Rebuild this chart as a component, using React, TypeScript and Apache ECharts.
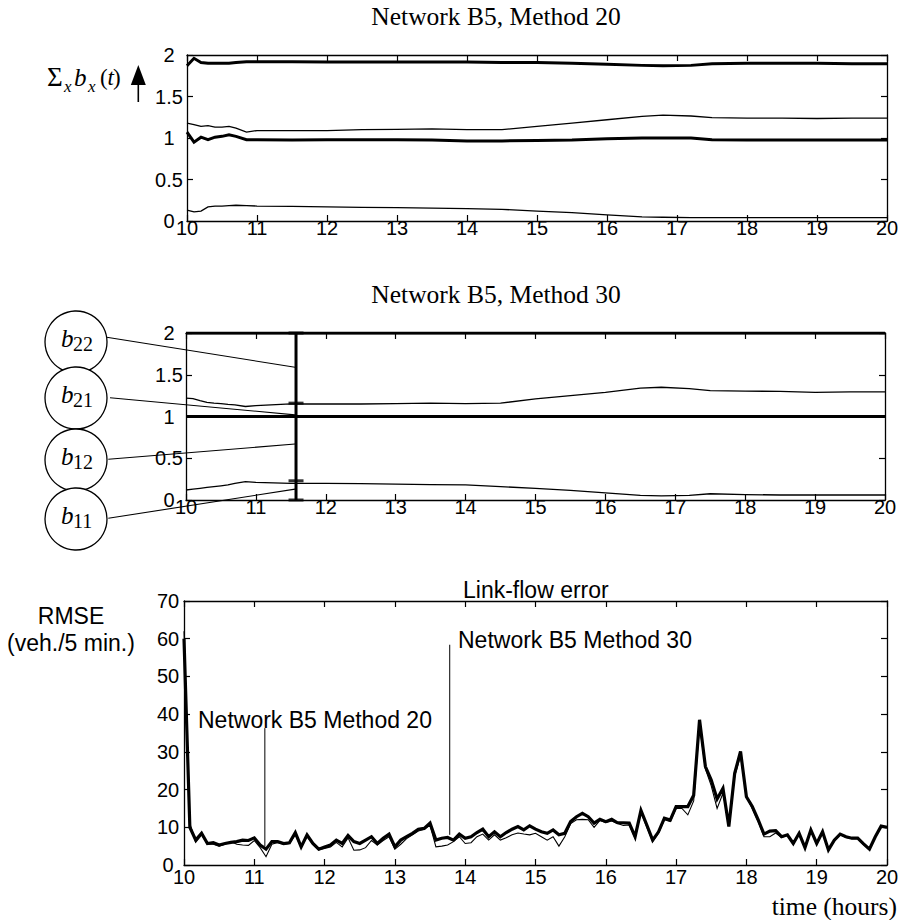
import React, { useEffect, useRef } from 'react';
import * as echarts from 'echarts';

// ---------- Data ----------
const PANEL_HOURS = [10, 10.1, 10.2, 10.3, 10.4, 10.5, 10.6, 10.7, 10.85, 11, 11.5, 12, 12.5, 13, 13.5, 14, 14.5, 15, 15.5, 16, 16.5, 16.8, 17.2, 17.5, 18, 18.5, 19, 19.5, 20];

// Network B5, Method 20
const M20_UPPER_THICK = [1.87, 1.96, 1.91, 1.9, 1.9, 1.9, 1.9, 1.91, 1.92, 1.92, 1.92, 1.915, 1.915, 1.915, 1.915, 1.915, 1.91, 1.91, 1.9, 1.89, 1.875, 1.87, 1.875, 1.895, 1.9, 1.9, 1.9, 1.895, 1.895];
const M20_UPPER_THIN = [1.18, 1.16, 1.14, 1.15, 1.13, 1.13, 1.14, 1.12, 1.07, 1.09, 1.09, 1.09, 1.1, 1.105, 1.11, 1.1, 1.1, 1.14, 1.18, 1.22, 1.26, 1.275, 1.265, 1.245, 1.24, 1.24, 1.235, 1.24, 1.24];
const M20_LOWER_THICK = [1.07, 0.95, 1.01, 0.98, 1.01, 1.02, 1.04, 1.02, 0.98, 0.98, 0.975, 0.98, 0.98, 0.98, 0.975, 0.965, 0.965, 0.97, 0.975, 0.99, 1.0, 1.0, 1.0, 0.98, 0.975, 0.975, 0.975, 0.975, 0.975];
const M20_LOWER_THIN = [0.13, 0.11, 0.12, 0.17, 0.18, 0.18, 0.185, 0.19, 0.185, 0.18, 0.175, 0.17, 0.165, 0.16, 0.155, 0.15, 0.14, 0.12, 0.1, 0.075, 0.05, 0.045, 0.04, 0.04, 0.04, 0.04, 0.04, 0.04, 0.04];

// Network B5, Method 30
const M30_UPPER_THICK = [2, 2, 2, 2, 2, 2, 2, 2, 2, 2, 2, 2, 2, 2, 2, 2, 2, 2, 2, 2, 2, 2, 2, 2, 2, 2, 2, 2, 2];
const M30_UPPER_THIN = [1.22, 1.215, 1.19, 1.17, 1.16, 1.155, 1.145, 1.14, 1.12, 1.13, 1.15, 1.15, 1.15, 1.155, 1.16, 1.155, 1.16, 1.21, 1.25, 1.29, 1.34, 1.35, 1.335, 1.31, 1.305, 1.3, 1.29, 1.295, 1.295];
const M30_LOWER_THICK = [1, 1, 1, 1, 1, 1, 1, 1, 1, 1, 1, 1, 1, 1, 1, 1, 1, 1, 1, 1, 1, 1, 1, 1, 1, 1, 1, 1, 1];
const M30_LOWER_THIN = [0.12, 0.13, 0.14, 0.15, 0.16, 0.17, 0.18, 0.2, 0.22, 0.21, 0.2, 0.2, 0.195, 0.19, 0.185, 0.18, 0.16, 0.14, 0.115, 0.085, 0.055, 0.05, 0.055, 0.075, 0.065, 0.06, 0.06, 0.06, 0.06];

// error bar in the Method 30 panel
const ERRBAR_HOUR = 11.574;
const ERRBAR_CAPS = [2, 1.16, 0.23, 0];
const CIRCLE_LABELS = ['22', '21', '12', '11'];
const LEADER_TARGETS = [1.59, 1.02, 0.67, 0.13];

// Link-flow error (5-minute samples from 10:00 to 20:00)
const RMSE_START_HOUR = 10;
const RMSE_STEP_MINUTES = 5;
const RMSE_THICK = [
  60, 10, 6.6, 8.4, 5.7, 5.9, 5.3, 5.7, 6.0, 6.2, 6.6, 6.5, 7.2, 5.3, 4.2, 6.2, 6.2, 5.7, 5.9, 8.6,
  4.8, 8.0, 5.7, 4.2, 4.8, 5.3, 6.6, 5.7, 7.8, 6.2, 5.7, 6.6, 7.5, 5.7, 7.1, 8.2, 4.8, 6.6, 7.5, 8.4,
  9.5, 9.7, 11.1, 6.6, 7.1, 7.3, 6.6, 8.2, 7.1, 7.5, 8.6, 9.5, 7.5, 8.8, 7.5, 8.6, 9.5, 10.2, 9.3, 10.4,
  9.5, 8.8, 8.4, 9.3, 8.0, 8.4, 11.5, 12.8, 13.7, 12.8, 11.1, 12.1, 11.5, 12.1, 11.2, 11.2, 11.1, 7.5, 14.5, 10.6,
  6.6, 8.8, 12.4, 11.9, 15.5, 15.5, 15.5, 18.5, 38.5, 26.1, 22.5, 17.5, 20.3, 10.2, 24.3, 30.1, 18.1, 15.5, 12.0, 8.2,
  9.0, 9.1, 7.5, 8.0, 5.7, 8.4, 4.6, 9.3, 5.7, 8.8, 4.0, 6.6, 8.2, 7.5, 7.1, 7.1, 5.6, 4.2, 7.5, 10.3,
  10.0,
];
const RMSE_THIN = [
  62, 11, 6.0, 8.0, 5.5, 5.5, 5.0, 5.5, 6.2, 5.5, 5.3, 5.2, 6.5, 4.6, 2.2, 5.5, 6.0, 5.5, 5.7, 8.0,
  4.6, 7.5, 5.5, 4.0, 4.4, 4.8, 6.0, 4.8, 7.2, 3.9, 4.0, 4.6, 6.5, 5.3, 6.5, 7.5, 4.2, 5.5, 7.0, 8.0,
  9.0, 9.5, 10.5, 4.8, 5.0, 5.3, 6.2, 7.5, 5.7, 5.9, 7.5, 8.2, 6.6, 8.0, 6.6, 7.2, 8.0, 8.5, 8.2, 8.0,
  8.4, 7.5, 6.6, 7.5, 5.0, 7.5, 11.0, 12.0, 12.1, 12.0, 10.0, 11.8, 11.2, 11.7, 11.0, 10.5, 10.6, 7.1, 14.0, 10.0,
  6.2, 8.4, 12.0, 11.5, 15.0, 15.0, 13.3, 17.0, 37.0, 25.5, 21.0, 15.0, 19.0, 11.0, 23.5, 29.0, 18.0, 15.0, 11.5, 7.5,
  7.5, 8.5, 7.3, 7.8, 5.5, 8.2, 4.4, 9.0, 5.5, 8.6, 3.9, 6.4, 8.0, 7.3, 7.0, 7.0, 5.4, 4.0, 7.3, 10.1,
  9.8,
];
const LABEL20_LEADER = { hour: 11.15, from: 36.3, to: 5.0 };
const LABEL30_LEADER = { hour: 13.78, from: 58.4, to: 8.0 };

const X_TICK = { min: 10, max: 20, interval: 1 };
const B_TICK = { min: 0, max: 2, interval: 0.5 };
const RMSE_TICK = { min: 0, max: 70, interval: 10 };

// ---------- helpers ----------
const SANS = 'Liberation Sans';
const SERIF = 'Liberation Serif';
const INK = '#000';

const zip = (xs: number[], ys: number[]) => xs.map((x, i) => [x, ys[i]]);
const rmseHours = RMSE_THICK.map((_, i) => RMSE_START_HOUR + (i * RMSE_STEP_MINUTES) / 60);

const axisLine = { show: true, onZero: false, lineStyle: { color: INK, width: 1.3 } };
const axisTick = { show: true, inside: true, length: 6, lineStyle: { color: INK, width: 1.2 } };

function xAxesFor(gi: number, margin: number) {
  return [
    {
      type: 'value', gridIndex: gi, position: 'bottom', ...X_TICK,
      axisLine, axisTick, splitLine: { show: false },
      axisLabel: { margin, color: INK, fontSize: 20, fontFamily: SANS },
    },
    {
      type: 'value', gridIndex: gi, position: 'top', ...X_TICK,
      axisLine, axisTick, splitLine: { show: false }, axisLabel: { show: false },
    },
  ];
}
function yAxesFor(gi: number, tick: any, margin: number) {
  return [
    {
      type: 'value', gridIndex: gi, position: 'left', ...tick,
      axisLine, axisTick, splitLine: { show: false },
      axisLabel: { margin, align: 'center', color: INK, fontSize: 20, fontFamily: SANS, padding: [6, 0, 0, 0] },
    },
    {
      type: 'value', gridIndex: gi, position: 'right', ...tick,
      axisLine, axisTick, splitLine: { show: false }, axisLabel: { show: false },
    },
  ];
}
function lineSeries(gi: number, data: number[][], width: number, z = 3) {
  return {
    type: 'line', xAxisIndex: gi * 2, yAxisIndex: gi * 2, data, symbol: 'none', z,
    lineStyle: { color: INK, width, join: 'miter' }, silent: true,
  };
}
function txt(x: number, y: number, text: string, size: number, family: string, align = 'left', italic = false) {
  return {
    type: 'text', x, y, z: 10,
    style: {
      text, fill: INK, fontSize: size, fontFamily: family, fontStyle: italic ? 'italic' : 'normal',
      align, verticalAlign: 'middle', textAlign: align, textVerticalAlign: 'middle',
    },
  };
}

const CIRCLE_POS = [
  { cx: 76, cy: 342, sx: 106.7, sy: 337.3 },
  { cx: 76, cy: 398, sx: 110, sy: 397.7 },
  { cx: 76, cy: 460, sx: 108.3, sy: 459.3 },
  { cx: 76, cy: 519, sx: 108.3, sy: 518.3 },
];

const option: any = {
  animation: false,
  backgroundColor: '#fff',
  textStyle: { fontFamily: SANS },
  grid: [
    { left: 187, top: 55, width: 700, height: 166 },
    { left: 186, top: 333, width: 699, height: 167 },
    { left: 184, top: 601, width: 703, height: 264 },
  ],
  xAxis: [...xAxesFor(0, -3), ...xAxesFor(1, -3), ...xAxesFor(2, 2)],
  yAxis: [...yAxesFor(0, B_TICK, 18), ...yAxesFor(1, B_TICK, 17), ...yAxesFor(2, RMSE_TICK, 16)],
  series: [
    lineSeries(0, zip(PANEL_HOURS, M20_UPPER_THICK), 3),
    lineSeries(0, zip(PANEL_HOURS, M20_UPPER_THIN), 1.3),
    lineSeries(0, zip(PANEL_HOURS, M20_LOWER_THICK), 3),
    lineSeries(0, zip(PANEL_HOURS, M20_LOWER_THIN), 1.3),
    lineSeries(1, zip(PANEL_HOURS, M30_UPPER_THICK), 3),
    lineSeries(1, zip(PANEL_HOURS, M30_UPPER_THIN), 1.3),
    lineSeries(1, zip(PANEL_HOURS, M30_LOWER_THICK), 3),
    lineSeries(1, zip(PANEL_HOURS, M30_LOWER_THIN), 1.3),
    lineSeries(1, [[ERRBAR_HOUR, 0], [ERRBAR_HOUR, 2]], 3, 4),
    {
      type: 'scatter', xAxisIndex: 2, yAxisIndex: 2, symbol: 'rect', symbolSize: [15, 3], z: 4,
      itemStyle: { color: INK }, data: ERRBAR_CAPS.map((v) => [ERRBAR_HOUR, v]), silent: true,
    },
    lineSeries(2, zip(rmseHours, RMSE_THICK), 3.2),
    lineSeries(2, zip(rmseHours, RMSE_THIN), 1.1, 4),
    lineSeries(2, [[LABEL20_LEADER.hour, LABEL20_LEADER.from], [LABEL20_LEADER.hour, LABEL20_LEADER.to]], 1),
    lineSeries(2, [[LABEL30_LEADER.hour, LABEL30_LEADER.from], [LABEL30_LEADER.hour, LABEL30_LEADER.to]], 1),
  ],
};

const staticGraphics: any[] = [
  txt(496, 16, 'Network B5, Method 20', 25.5, SERIF, 'center'),
  txt(496, 294, 'Network B5, Method 30', 25.5, SERIF, 'center'),
  // Σ_x b_x(t)
  txt(47, 77, 'Σ', 27, SERIF),
  txt(64, 86, 'x', 17, SERIF, 'left', true),
  txt(74, 77, 'b', 25, SERIF, 'left', true),
  txt(88, 86, 'x', 17, SERIF, 'left', true),
  txt(100, 77, '(', 23, SERIF),
  txt(107.5, 77, 't', 23, SERIF, 'left', true),
  txt(113, 77, ')', 23, SERIF),
  { type: 'polygon', z: 10, shape: { points: [[138.3, 65], [130.8, 85], [145.8, 85]] }, style: { fill: INK } },
  { type: 'line', z: 10, shape: { x1: 138.3, y1: 84, x2: 138.3, y2: 102 }, style: { stroke: INK, lineWidth: 1.6 } },
  // RMSE labels
  txt(71, 616, 'RMSE', 23, SANS, 'center'),
  txt(71, 643, '(veh./5 min.)', 23, SANS, 'center'),
  txt(463, 590, 'Link-flow error', 23, SANS),
  txt(198, 720, 'Network B5 Method 20', 23, SANS),
  txt(458, 640, 'Network B5 Method 30', 23, SANS),
  txt(897, 906, 'time (hours)', 25.5, SERIF, 'right'),
];
CIRCLE_POS.forEach((c, i) => {
  staticGraphics.push({
    type: 'circle', z: 10, shape: { cx: c.cx, cy: c.cy, r: 31 },
    style: { fill: '#fff', stroke: INK, lineWidth: 1.3 },
  });
  staticGraphics.push(txt(c.cx - 15, c.cy - 4, 'b', 25, SERIF, 'left', true));
  staticGraphics.push(txt(c.cx - 3, c.cy + 2, CIRCLE_LABELS[i], 20, SERIF));
});

export default function App() {
  const ref = useRef<HTMLDivElement>(null);
  useEffect(() => {
    document.body.style.margin = '0';
    const chart = echarts.init(ref.current!, null, { renderer: 'svg' });
    chart.setOption(option);
    const leaders = CIRCLE_POS.map((c, i) => {
      const p = chart.convertToPixel({ xAxisIndex: 2, yAxisIndex: 2 }, [ERRBAR_HOUR, LEADER_TARGETS[i]]) as number[];
      return {
        type: 'line', z: 9, shape: { x1: c.sx, y1: c.sy, x2: p[0] - 1, y2: p[1] },
        style: { stroke: INK, lineWidth: 1.1 },
      };
    });
    chart.setOption({ graphic: [...staticGraphics, ...leaders] });
    return () => chart.dispose();
  }, []);
  return <div ref={ref} style={{ width: 904, height: 920 }} />;
}
